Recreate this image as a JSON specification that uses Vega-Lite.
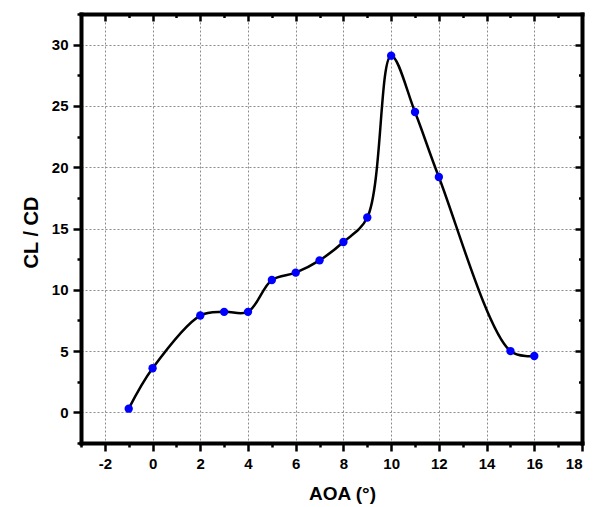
{
  "$schema": "https://vega.github.io/schema/vega-lite/v6.json",
  "width": 501,
  "height": 429,
  "autosize": "none",
  "padding": {"left": 81, "top": 14, "right": 13, "bottom": 64},
  "background": "white",
  "config": {
    "view": {"stroke": null},
    "font": "Liberation Sans",
    "axis": {
      "domainColor": "black",
      "domainWidth": 4,
      "domainCap": "square",
      "tickColor": "black",
      "tickWidth": 2.5,
      "labelFont": "Liberation Sans",
      "labelFontWeight": "bold",
      "labelFontSize": 15,
      "labelColor": "black",
      "titleFont": "Liberation Sans",
      "titleFontWeight": "bold",
      "titleColor": "black"
    }
  },
  "data": {
    "values": [
      {"aoa": -1, "ratio": 0.3},
      {"aoa": 0, "ratio": 3.6},
      {"aoa": 2, "ratio": 7.9},
      {"aoa": 3, "ratio": 8.2},
      {"aoa": 4, "ratio": 8.2},
      {"aoa": 5, "ratio": 10.8},
      {"aoa": 6, "ratio": 11.4},
      {"aoa": 7, "ratio": 12.4},
      {"aoa": 8, "ratio": 13.9},
      {"aoa": 9, "ratio": 15.9},
      {"aoa": 10, "ratio": 29.1},
      {"aoa": 11, "ratio": 24.5},
      {"aoa": 12, "ratio": 19.2},
      {"aoa": 15, "ratio": 5.0},
      {"aoa": 16, "ratio": 4.6}
    ]
  },
  "layer": [
    {
      "mark": {"type": "line", "interpolate": "catmull-rom", "color": "black", "strokeWidth": 2.5},
      "encoding": {
        "x": {
          "field": "aoa", "type": "quantitative",
          "scale": {"domain": [-3, 18], "nice": false, "zero": false},
          "axis": {
            "orient": "bottom",
            "title": "AOA (°)",
            "titleFontSize": 19,
            "titlePadding": 13,
            "titleX": 261,
            "values": [-3, -2, -1, 0, 1, 2, 3, 4, 5, 6, 7, 8, 9, 10, 11, 12, 13, 14, 15, 16, 17, 18],
            "labelExpr": "datum.value % 2 === 0 ? replace(datum.label, '−', '-') : ''",
            "labelPadding": 5,
            "tickSize": 8,
            "tickDash": {"condition": {"test": "datum.value % 2 === 0", "value": [20, 0]}, "value": [4, 20]},
            "grid": true,
            "gridColor": "#8c8c8c",
            "gridDash": [2, 2],
            "gridWidth": 1,
            "gridOpacity": {"condition": {"test": "datum.value % 2 === 0", "value": 1}, "value": 0}
          }
        },
        "y": {
          "field": "ratio", "type": "quantitative",
          "scale": {"domain": [-2.5, 32.5], "nice": false, "zero": false},
          "axis": {
            "orient": "left",
            "title": "CL / CD",
            "titleFontSize": 20,
            "titlePadding": 10,
            "titleY": 218,
            "values": [-2.5, 0, 2.5, 5, 7.5, 10, 12.5, 15, 17.5, 20, 22.5, 25, 27.5, 30, 32.5],
            "labelExpr": "datum.value % 5 === 0 ? datum.label : ''",
            "labelPadding": 5,
            "tickSize": 8,
            "tickDash": {"condition": {"test": "datum.value % 5 === 0", "value": [20, 0]}, "value": [4, 20]},
            "grid": true,
            "gridColor": "#8c8c8c",
            "gridDash": [2, 2],
            "gridWidth": 1,
            "gridOpacity": {"condition": {"test": "datum.value % 5 === 0", "value": 1}, "value": 0}
          }
        }
      }
    },
    {
      "mark": {"type": "point", "filled": true, "color": "#0000ff", "opacity": 1, "size": 70},
      "encoding": {
        "x": {
          "field": "aoa", "type": "quantitative",
          "axis": {
            "orient": "top",
            "title": null,
            "labels": false,
            "grid": false,
            "values": [-3, -2, -1, 0, 1, 2, 3, 4, 5, 6, 7, 8, 9, 10, 11, 12, 13, 14, 15, 16, 17, 18],
            "tickSize": -7,
            "tickDash": {"condition": {"test": "datum.value % 2 === 0", "value": [20, 0]}, "value": [3.5, 20]}
          }
        },
        "y": {
          "field": "ratio", "type": "quantitative",
          "axis": {
            "orient": "right",
            "title": null,
            "labels": false,
            "grid": false,
            "values": [-2.5, 0, 2.5, 5, 7.5, 10, 12.5, 15, 17.5, 20, 22.5, 25, 27.5, 30, 32.5],
            "tickSize": -7,
            "tickDash": {"condition": {"test": "datum.value % 5 === 0", "value": [20, 0]}, "value": [3.5, 20]}
          }
        }
      }
    }
  ],
  "resolve": {"axis": {"x": "independent", "y": "independent"}}
}
